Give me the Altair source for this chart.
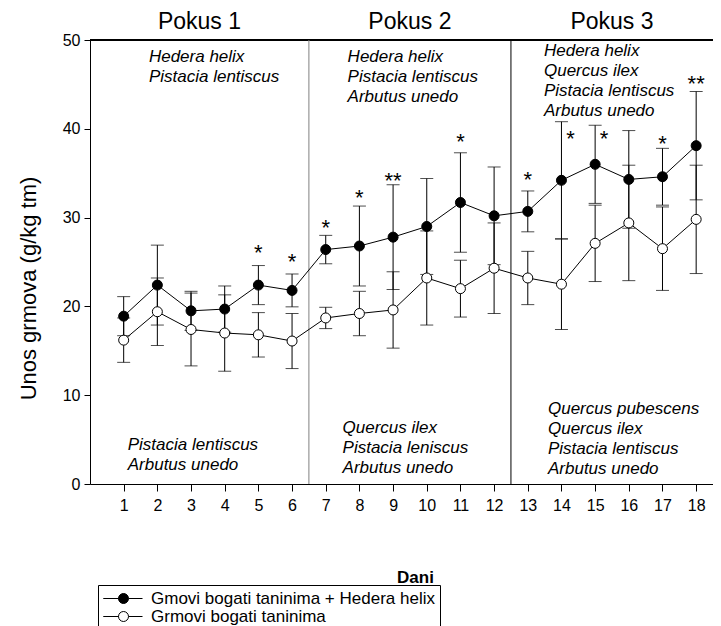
import altair as alt
import pandas as pd

# ---------------- data ----------------
days = list(range(1, 19))
series_names = ["Gmovi bogati taninima + Hedera helix", "Grmovi bogati taninima"]

hedera_mean = [18.9, 22.4, 19.5, 19.7, 22.4, 21.8, 26.4, 26.8, 27.8, 29.0, 31.7, 30.2, 30.7, 34.2, 36.0, 34.3, 34.6, 38.1]
hedera_sd   = [2.2, 4.5, 2.2, 2.6, 2.2, 1.85, 1.6, 4.5, 5.9, 5.4, 5.6, 5.5, 2.3, 6.6, 4.4, 5.5, 3.2, 6.1]
tanin_mean  = [16.2, 19.4, 17.4, 17.0, 16.8, 16.1, 18.7, 19.2, 19.6, 23.2, 22.0, 24.3, 23.2, 22.5, 27.1, 29.4, 26.5, 29.8]
tanin_sd    = [2.5, 3.8, 4.1, 4.3, 2.5, 3.1, 1.2, 2.5, 4.3, 5.3, 3.2, 5.1, 3.0, 5.1, 4.3, 6.5, 4.7, 6.1]

star_days   = [5, 6, 7, 8, 9, 11, 13, 14, 15, 17, 18]
star_labels = ["*", "*", "*", "*", "**", "*", "*", "*", "*", "*", "**"]
star_values = [26.6, 25.6, 29.4, 32.8, 34.7, 39.1, 34.8, 39.4, 39.4, 38.9, 45.6]
star_beside = [False, False, False, False, False, False, False, True, True, False, False]

panel_titles = ["Pokus 1", "Pokus 2", "Pokus 3"]
panel_breaks = [6.5, 12.5]

top_species = [
    ["Hedera helix", "Pistacia lentiscus"],
    ["Hedera helix", "Pistacia lentiscus", "Arbutus unedo"],
    ["Hedera helix", "Quercus ilex", "Pistacia lentiscus", "Arbutus unedo"],
]
bottom_species = [
    ["Pistacia lentiscus", "Arbutus unedo"],
    ["Quercus ilex", "Pistacia leniscus", "Arbutus unedo"],
    ["Quercus pubescens", "Quercus ilex", "Pistacia lentiscus", "Arbutus unedo"],
]

# ---------------- layout constants ----------------
X_MAX = 18.5
PX_PER_DAY = 33.7
W = round(X_MAX * PX_PER_DAY)
H = 444
UNIT = H / 50.0
LINE_STEP = 20.0 / UNIT
top_anchor_x = [1.75, 7.65, 13.48]
top_anchor_y = [48.1, 48.1, 48.8]
bot_anchor_x = [1.12, 7.5, 13.6]
bot_anchor_y = [4.4, 6.3, 8.5]
title_y = 52.05
title_x = [3.25, 9.5, 15.5]

FONT = "Liberation Sans"

# ---------------- tables ----------------
rows = []
for name, means, sds in [(series_names[0], hedera_mean, hedera_sd),
                         (series_names[1], tanin_mean, tanin_sd)]:
    for d, m, s in zip(days, means, sds):
        rows.append({"day": d, "mean": m, "lo": m - s, "hi": m + s, "series": name})
df = pd.DataFrame(rows)

stars = pd.DataFrame({"day": star_days, "label": star_labels,
                      "val": star_values, "beside": star_beside})

ann = []
for i, block in enumerate(top_species):
    for j, t in enumerate(block):
        ann.append({"x": top_anchor_x[i], "y": top_anchor_y[i] - j * LINE_STEP, "t": t})
for i, block in enumerate(bottom_species):
    for j, t in enumerate(block):
        ann.append({"x": bot_anchor_x[i], "y": bot_anchor_y[i] - j * LINE_STEP, "t": t})
ann = pd.DataFrame(ann)

titles = pd.DataFrame({"x": title_x, "y": [title_y] * 3, "t": panel_titles})

# ---------------- shared scales/axes ----------------
xs = alt.Scale(domain=[0, X_MAX], nice=False, zero=False)
ys = alt.Scale(domain=[0, 50], nice=False)
xaxis = alt.Axis(values=days, grid=False, tickSize=7, tickColor="black", domainColor="black",
                 labelFontSize=16, labelColor="black", labelPadding=6, labelFlush=False,
                 labelOverlap=False, title="Dani", titleFontSize=17, titleFontWeight="bold",
                 titleColor="black", titleX=325, titleY=93, titleBaseline="middle",
                 titleAlign="center")
yaxis = alt.Axis(values=[0, 10, 20, 30, 40, 50], grid=False, tickSize=6, tickColor="black",
                 domainColor="black", labelFontSize=16, labelColor="black", labelPadding=4,
                 title="Unos grmova (g/kg tm)", titleFontSize=22, titleFontWeight="normal",
                 titleColor="black", titleX=-62, titleY=248, titleAngle=270,
                 titleBaseline="middle", titleAlign="center")


def X(f):
    return alt.X(f, type="quantitative", scale=xs, axis=xaxis, title="Dani")


def Y(f):
    return alt.Y(f, type="quantitative", scale=ys, axis=yaxis, title="Unos grmova (g/kg tm)")


base = alt.Chart(df)

frame_top = alt.Chart(df).mark_rule(color="black", strokeWidth=1).encode(y=alt.datum(50, scale=ys))
breaks = alt.Chart(pd.DataFrame({"b": panel_breaks, "c": ["#808080", "#000000"]})).mark_rule(
    strokeWidth=1).encode(x=X("b"), color=alt.Color("c:N", scale=None))

errs = base.mark_errorbar(ticks=True, size=13, thickness=1, color="black").encode(
    x=X("day"), y=Y("lo"), y2="hi")

lines = base.mark_line(color="black", strokeWidth=1).encode(
    x=X("day"), y=Y("mean"), detail="series:N")

LEGEND_PATH = ("M-4,0H-1C-1,-0.5523 -0.5523,-1 0,-1C0.5523,-1 1,-0.5523 1,0"
               "C1,0.5523 0.5523,1 0,1C-0.5523,1 -1,0.5523 -1,0ZM1,0H3.8")

points = base.mark_circle(size=100, stroke="black", strokeWidth=1, opacity=1).encode(
    x=X("day"), y=Y("mean"),
    fill=alt.Fill("series:N",
                  scale=alt.Scale(domain=series_names, range=["black", "white"]),
                  legend=alt.Legend(title=None, orient="none", legendX=8, legendY=545,
                                    direction="vertical", strokeColor="black",
                                    fillColor="white", padding=5, labelFontSize=17,
                                    labelFont=FONT, labelColor="black", labelLimit=600,
                                    symbolType=LEGEND_PATH, symbolSize=100,
                                    symbolStrokeColor="black", symbolStrokeWidth=1,
                                    symbolOffset=12, labelOffset=19, rowPadding=0,
                                    cornerRadius=0)))

star_above = alt.Chart(stars).transform_filter("!datum.beside").mark_text(
    fontSize=22, dy=12, baseline="alphabetic", align="center", color="black").encode(
    x=X("day"), y=Y("val"), text="label:N")
star_side = alt.Chart(stars).transform_filter("datum.beside").mark_text(
    fontSize=22, dy=12, dx=9, baseline="alphabetic", align="center", color="black").encode(
    x=X("day"), y=Y("val"), text="label:N")

species = alt.Chart(ann).mark_text(fontSize=17, fontStyle="italic", align="left",
                                   baseline="middle", color="black").encode(
    x=X("x"), y=Y("y"), text="t:N")

ptitles = alt.Chart(titles).mark_text(fontSize=23, align="center", baseline="middle",
                                      color="black").encode(
    x=X("x"), y=Y("y"), text="t:N")

chart = alt.layer(frame_top, breaks, errs, lines, points, star_above, star_side,
                  species, ptitles).properties(
    width=W, height=H,
    autosize=alt.AutoSizeParams(type="none"),
    padding={"left": 82, "top": 32, "right": 0, "bottom": 150},
).configure(font=FONT).configure_view(stroke=None)

chart.save("out.html", embed_options={"renderer": "svg", "actions": False})
